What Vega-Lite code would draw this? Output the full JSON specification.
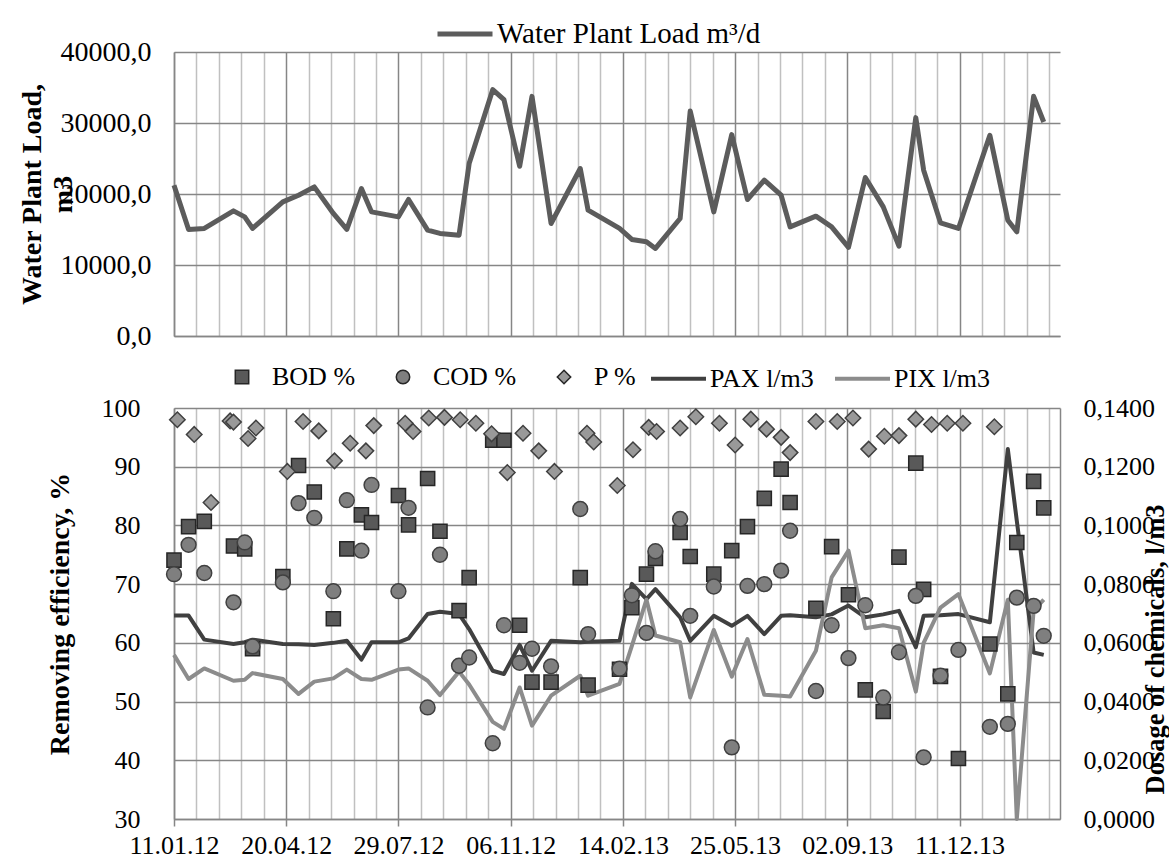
{
  "$schema": "https://vega.github.io/schema/vega-lite/v6.json",
  "background": "white",
  "padding": {"left": 18, "top": 4, "right": 0, "bottom": 0},
  "config": {
    "font": "Liberation Serif",
    "view": {"stroke": null},
    "axis": {
      "labelFont": "Liberation Serif", "labelFontSize": 26, "labelColor": "#000000",
      "titleFont": "Liberation Serif", "titleFontSize": 28, "titleFontWeight": "bold", "titleColor": "#000000",
      "domainColor": "#868686", "domainWidth": 1.5, "gridWidth": 1.5, "tickColor": "#868686", "tickWidth": 1.5
    },
    "legend": {"labelFont": "Liberation Serif", "labelFontSize": 26, "labelColor": "#000000", "padding": 0, "labelLimit": 0},
    "locale": {"number": {"decimal": ",", "thousands": " ", "grouping": [3], "currency": ["", ""]}}
  },
  "datasets": {
    "samples": [
      {"date": "2012-01-11", "load": 21238, "bod": 74.1, "cod": 71.7, "pax": 0.0693, "pix": 0.0559},
      {"date": "2012-01-24", "load": 15007, "bod": 79.8, "cod": 76.7, "pax": 0.0693, "pix": 0.0477},
      {"date": "2012-02-07", "load": 15148, "bod": 80.7, "cod": 71.9, "pax": 0.0611, "pix": 0.0513},
      {"date": "2012-03-04", "load": 17623, "bod": 76.5, "cod": 66.9, "pax": 0.0596, "pix": 0.0471},
      {"date": "2012-03-14", "load": 16780, "bod": 76.0, "cod": 77.1, "pax": 0.0602, "pix": 0.0474},
      {"date": "2012-03-21", "load": 15148, "bod": 59.0, "cod": 59.4, "pax": 0.0611, "pix": 0.0497},
      {"date": "2012-04-17", "load": 18890, "bod": 71.3, "cod": 70.3, "pax": 0.0596, "pix": 0.0477},
      {"date": "2012-05-01", "load": 19831, "bod": 90.2, "cod": 83.8, "pax": 0.0595, "pix": 0.0426},
      {"date": "2012-05-15", "load": 21000, "bod": 85.7, "cod": 81.3, "pax": 0.0593, "pix": 0.0468},
      {"date": "2012-06-01", "load": 17257, "bod": 64.1, "cod": 68.8, "pax": 0.0600, "pix": 0.0479},
      {"date": "2012-06-13", "load": 15007, "bod": 76.0, "cod": 84.3, "pax": 0.0607, "pix": 0.0509},
      {"date": "2012-06-26", "load": 20773, "bod": 81.8, "cod": 75.7, "pax": 0.0543, "pix": 0.0477},
      {"date": "2012-07-05", "load": 17482, "bod": 80.5, "cod": 86.9, "pax": 0.0602, "pix": 0.0474},
      {"date": "2012-07-29", "load": 16780, "bod": 85.1, "cod": 68.8, "pax": 0.0602, "pix": 0.0509},
      {"date": "2012-08-07", "load": 19226, "bod": 80.1, "cod": 83.0, "pax": 0.0615, "pix": 0.0513},
      {"date": "2012-08-24", "load": 14908, "bod": 88.0, "cod": 49.0, "pax": 0.0698, "pix": 0.0471},
      {"date": "2012-09-04", "load": 14444, "bod": 79.0, "cod": 75.0, "pax": 0.0706, "pix": 0.0422},
      {"date": "2012-09-21", "load": 14205, "bod": 65.5, "cod": 56.1, "pax": 0.0698, "pix": 0.0502},
      {"date": "2012-09-30", "load": 24290, "bod": 71.1, "cod": 57.5, "pax": 0.0647, "pix": 0.0458},
      {"date": "2012-10-21", "load": 34698, "bod": 94.5, "cod": 42.9, "pax": 0.0505, "pix": 0.0331},
      {"date": "2012-10-31", "load": 33291, "bod": 94.5, "cod": 63.0, "pax": 0.0494, "pix": 0.0307},
      {"date": "2012-11-14", "load": 23910, "bod": 63.0, "cod": 56.6, "pax": 0.0593, "pix": 0.0448},
      {"date": "2012-11-25", "load": 33755, "bod": 53.3, "cod": 59.0, "pax": 0.0505, "pix": 0.0318},
      {"date": "2012-12-12", "load": 15851, "bod": 53.3, "cod": 56.0, "pax": 0.0607, "pix": 0.0420},
      {"date": "2013-01-07", "load": 23587, "bod": 71.1, "cod": 82.8, "pax": 0.0602, "pix": 0.0488},
      {"date": "2013-01-14", "load": 17722, "bod": 52.8, "cod": 61.5, "pax": 0.0604, "pix": 0.0420},
      {"date": "2013-02-11", "load": 15148, "bod": 55.5, "cod": 55.6, "pax": 0.0607, "pix": 0.0460},
      {"date": "2013-02-22", "load": 13600, "bod": 66.0, "cod": 68.1, "pax": 0.0801, "pix": 0.0590},
      {"date": "2013-03-07", "load": 13263, "bod": 71.7, "cod": 61.7, "pax": 0.0749, "pix": 0.0747},
      {"date": "2013-03-15", "load": 12334, "bod": 74.4, "cod": 75.6, "pax": 0.0783, "pix": 0.0625},
      {"date": "2013-04-06", "load": 16554, "bod": 78.8, "cod": 81.1, "pax": 0.0687, "pix": 0.0602},
      {"date": "2013-04-15", "load": 31688, "bod": 74.7, "cod": 64.6, "pax": 0.0607, "pix": 0.0414},
      {"date": "2013-05-06", "load": 17482, "bod": 71.7, "cod": 69.6, "pax": 0.0692, "pix": 0.0644},
      {"date": "2013-05-22", "load": 28368, "bod": 75.7, "cod": 42.2, "pax": 0.0658, "pix": 0.0485},
      {"date": "2013-06-05", "load": 19226, "bod": 79.8, "cod": 69.7, "pax": 0.0692, "pix": 0.0613},
      {"date": "2013-06-20", "load": 21941, "bod": 84.6, "cod": 70.0, "pax": 0.0630, "pix": 0.0423},
      {"date": "2013-07-05", "load": 19831, "bod": 89.6, "cod": 72.3, "pax": 0.0692, "pix": 0.0420},
      {"date": "2013-07-13", "load": 15373, "bod": 83.9, "cod": 79.1, "pax": 0.0694, "pix": 0.0417},
      {"date": "2013-08-05", "load": 16878, "bod": 65.9, "cod": 51.8, "pax": 0.0687, "pix": 0.0573},
      {"date": "2013-08-19", "load": 15373, "bod": 76.4, "cod": 63.0, "pax": 0.0697, "pix": 0.0823},
      {"date": "2013-09-03", "load": 12475, "bod": 68.2, "cod": 57.4, "pax": 0.0727, "pix": 0.0914},
      {"date": "2013-09-18", "load": 22321, "bod": 52.0, "cod": 66.4, "pax": 0.0687, "pix": 0.0650},
      {"date": "2013-10-04", "load": 18186, "bod": 48.3, "cod": 50.7, "pax": 0.0697, "pix": 0.0660},
      {"date": "2013-10-18", "load": 12658, "bod": 74.6, "cod": 58.4, "pax": 0.0709, "pix": 0.0650},
      {"date": "2013-11-02", "load": 30759, "bod": 90.6, "cod": 68.0, "pax": 0.0585, "pix": 0.0434},
      {"date": "2013-11-09", "load": 23347, "bod": 69.1, "cod": 40.5, "pax": 0.0692, "pix": 0.0600},
      {"date": "2013-11-24", "load": 15935, "bod": 54.3, "cod": 54.4, "pax": 0.0694, "pix": 0.0720},
      {"date": "2013-12-10", "load": 15148, "bod": 40.3, "cod": 58.8, "pax": 0.0698, "pix": 0.0766},
      {"date": "2014-01-07", "load": 28270, "bod": 59.8, "cod": 45.7, "pax": 0.0670, "pix": 0.0496},
      {"date": "2014-01-23", "load": 16315, "bod": 51.3, "cod": 46.2, "pax": 0.1260, "pix": 0.0747},
      {"date": "2014-01-31", "load": 14670, "bod": 77.1, "cod": 67.7, "pax": 0.1016, "pix": 0.0},
      {"date": "2014-02-15", "load": 33755, "bod": 87.5, "cod": 66.3, "pax": 0.0567, "pix": 0.0710},
      {"date": "2014-02-24", "load": 30140, "bod": 83.0, "cod": 61.2, "pax": 0.0559, "pix": 0.0747}
    ],
    "phosphorus": [
      {"date": "2012-01-14", "p": 98.0}, {"date": "2012-01-29", "p": 95.5}, {"date": "2012-02-13", "p": 83.9},
      {"date": "2012-03-01", "p": 97.8}, {"date": "2012-03-04", "p": 97.6}, {"date": "2012-03-17", "p": 94.8},
      {"date": "2012-03-24", "p": 96.6}, {"date": "2012-04-21", "p": 89.2}, {"date": "2012-05-05", "p": 97.7},
      {"date": "2012-05-19", "p": 96.1}, {"date": "2012-06-02", "p": 91.0}, {"date": "2012-06-16", "p": 94.0},
      {"date": "2012-06-30", "p": 92.7}, {"date": "2012-07-07", "p": 97.0}, {"date": "2012-08-04", "p": 97.4},
      {"date": "2012-08-11", "p": 96.0}, {"date": "2012-08-25", "p": 98.3}, {"date": "2012-09-08", "p": 98.4},
      {"date": "2012-09-22", "p": 98.0}, {"date": "2012-10-06", "p": 97.4}, {"date": "2012-10-20", "p": 95.6},
      {"date": "2012-11-03", "p": 89.0}, {"date": "2012-11-17", "p": 95.7}, {"date": "2012-12-01", "p": 92.7},
      {"date": "2012-12-15", "p": 89.2}, {"date": "2013-01-13", "p": 95.7}, {"date": "2013-01-19", "p": 94.2},
      {"date": "2013-02-09", "p": 86.8}, {"date": "2013-02-23", "p": 92.9}, {"date": "2013-03-09", "p": 96.7},
      {"date": "2013-03-16", "p": 96.0}, {"date": "2013-04-06", "p": 96.6}, {"date": "2013-04-20", "p": 98.5},
      {"date": "2013-05-11", "p": 97.4}, {"date": "2013-05-25", "p": 93.7}, {"date": "2013-06-08", "p": 98.1},
      {"date": "2013-06-22", "p": 96.4}, {"date": "2013-07-05", "p": 95.0}, {"date": "2013-07-13", "p": 92.4},
      {"date": "2013-08-05", "p": 97.7}, {"date": "2013-08-24", "p": 97.7}, {"date": "2013-09-07", "p": 98.3},
      {"date": "2013-09-21", "p": 93.0}, {"date": "2013-10-05", "p": 95.2}, {"date": "2013-10-18", "p": 95.3},
      {"date": "2013-11-02", "p": 98.1}, {"date": "2013-11-16", "p": 97.2}, {"date": "2013-11-30", "p": 97.4},
      {"date": "2013-12-14", "p": 97.4}, {"date": "2014-01-11", "p": 96.8}
    ]
  },
  "spacing": -1,
  "resolve": {
    "scale": {"stroke": "independent", "fill": "independent", "shape": "independent"},
    "legend": {"stroke": "independent", "fill": "independent", "shape": "independent"}
  },
  "vconcat": [
    {
      "width": 886,
      "height": 284,
      "data": {"name": "samples"},
      "mark": {"type": "line", "strokeWidth": 5, "strokeJoin": "round"},
      "encoding": {
        "x": {
          "field": "date", "type": "temporal",
          "scale": {"type": "utc", "nice": false, "domain": [{"year": 2012, "month": 1, "date": 11, "utc": true}, {"year": 2014, "month": 3, "date": 10, "hours": 12, "utc": true}]},
          "axis": {
            "title": null, "labels": false, "ticks": false, "domain": true, "grid": true,
            "gridColor": {"condition": {"test": "round((datum.value - utc(2012, 0, 11)) / 86400000) % 100 === 0", "value": "#868686"}, "value": "#c0c0c0"},
            "values": [
              {"year": 2012, "month": 1, "date": 11, "utc": true}, {"year": 2012, "month": 1, "date": 31, "utc": true},
              {"year": 2012, "month": 2, "date": 20, "utc": true}, {"year": 2012, "month": 3, "date": 11, "utc": true},
              {"year": 2012, "month": 3, "date": 31, "utc": true}, {"year": 2012, "month": 4, "date": 20, "utc": true},
              {"year": 2012, "month": 5, "date": 10, "utc": true}, {"year": 2012, "month": 5, "date": 30, "utc": true},
              {"year": 2012, "month": 6, "date": 19, "utc": true}, {"year": 2012, "month": 7, "date": 9, "utc": true},
              {"year": 2012, "month": 7, "date": 29, "utc": true}, {"year": 2012, "month": 8, "date": 18, "utc": true},
              {"year": 2012, "month": 9, "date": 7, "utc": true}, {"year": 2012, "month": 9, "date": 27, "utc": true},
              {"year": 2012, "month": 10, "date": 17, "utc": true}, {"year": 2012, "month": 11, "date": 6, "utc": true},
              {"year": 2012, "month": 11, "date": 26, "utc": true}, {"year": 2012, "month": 12, "date": 16, "utc": true},
              {"year": 2013, "month": 1, "date": 5, "utc": true}, {"year": 2013, "month": 1, "date": 25, "utc": true},
              {"year": 2013, "month": 2, "date": 14, "utc": true}, {"year": 2013, "month": 3, "date": 6, "utc": true},
              {"year": 2013, "month": 3, "date": 26, "utc": true}, {"year": 2013, "month": 4, "date": 15, "utc": true},
              {"year": 2013, "month": 5, "date": 5, "utc": true}, {"year": 2013, "month": 5, "date": 25, "utc": true},
              {"year": 2013, "month": 6, "date": 14, "utc": true}, {"year": 2013, "month": 7, "date": 4, "utc": true},
              {"year": 2013, "month": 7, "date": 24, "utc": true}, {"year": 2013, "month": 8, "date": 13, "utc": true},
              {"year": 2013, "month": 9, "date": 2, "utc": true}, {"year": 2013, "month": 9, "date": 22, "utc": true},
              {"year": 2013, "month": 10, "date": 12, "utc": true}, {"year": 2013, "month": 11, "date": 1, "utc": true},
              {"year": 2013, "month": 11, "date": 21, "utc": true}, {"year": 2013, "month": 12, "date": 11, "utc": true},
              {"year": 2013, "month": 12, "date": 31, "utc": true}, {"year": 2014, "month": 1, "date": 20, "utc": true},
              {"year": 2014, "month": 2, "date": 9, "utc": true}, {"year": 2014, "month": 3, "date": 1, "utc": true}
            ]
          }
        },
        "y": {
          "field": "load", "type": "quantitative",
          "scale": {"domain": [0, 40000], "nice": false},
          "axis": {
            "title": ["Water Plant Load,", "m3"], "titleAngle": 270, "titleBaseline": "alphabetic", "titleAlign": "center",
            "titleLineHeight": 31, "titleX": -134,
            "values": [0, 10000, 20000, 30000, 40000], "format": ".1f", "labelFontSize": 28,
            "grid": true, "gridColor": "#868686", "ticks": false, "domain": true, "labelPadding": 23
          }
        },
        "stroke": {
          "datum": "Water Plant Load m³/d", "type": "nominal",
          "scale": {"range": ["#5c5c5c"]},
          "legend": {"orient": "none", "legendX": 261, "legendY": -48, "title": null, "symbolType": "stroke", "symbolSize": 3025, "symbolStrokeWidth": 5, "labelOffset": 2, "labelFontSize": 29}
        }
      }
    },
    {
      "width": 886,
      "height": 411,
      "encoding": {
        "x": {
          "field": "date", "type": "temporal",
          "scale": {"type": "utc", "nice": false, "domain": [{"year": 2012, "month": 1, "date": 11, "utc": true}, {"year": 2014, "month": 3, "date": 10, "hours": 12, "utc": true}]},
          "axis": {
            "title": null, "domain": true, "grid": true,
            "gridColor": {"condition": {"test": "round((datum.value - utc(2012, 0, 11)) / 86400000) % 100 === 0", "value": "#868686"}, "value": "#c0c0c0"},
            "ticks": true, "tickSize": 7,
            "tickOpacity": {"condition": {"test": "round((datum.value - utc(2012, 0, 11)) / 86400000) % 100 === 0", "value": 1}, "value": 0},
            "labelExpr": "round((datum.value - utc(2012, 0, 11)) / 86400000) % 100 === 0 ? utcFormat(datum.value, '%d.%m.%y') : ''",
            "labelFlush": false, "labelOverlap": false, "labelPadding": 6,
            "values": [
              {"year": 2012, "month": 1, "date": 11, "utc": true}, {"year": 2012, "month": 1, "date": 31, "utc": true},
              {"year": 2012, "month": 2, "date": 20, "utc": true}, {"year": 2012, "month": 3, "date": 11, "utc": true},
              {"year": 2012, "month": 3, "date": 31, "utc": true}, {"year": 2012, "month": 4, "date": 20, "utc": true},
              {"year": 2012, "month": 5, "date": 10, "utc": true}, {"year": 2012, "month": 5, "date": 30, "utc": true},
              {"year": 2012, "month": 6, "date": 19, "utc": true}, {"year": 2012, "month": 7, "date": 9, "utc": true},
              {"year": 2012, "month": 7, "date": 29, "utc": true}, {"year": 2012, "month": 8, "date": 18, "utc": true},
              {"year": 2012, "month": 9, "date": 7, "utc": true}, {"year": 2012, "month": 9, "date": 27, "utc": true},
              {"year": 2012, "month": 10, "date": 17, "utc": true}, {"year": 2012, "month": 11, "date": 6, "utc": true},
              {"year": 2012, "month": 11, "date": 26, "utc": true}, {"year": 2012, "month": 12, "date": 16, "utc": true},
              {"year": 2013, "month": 1, "date": 5, "utc": true}, {"year": 2013, "month": 1, "date": 25, "utc": true},
              {"year": 2013, "month": 2, "date": 14, "utc": true}, {"year": 2013, "month": 3, "date": 6, "utc": true},
              {"year": 2013, "month": 3, "date": 26, "utc": true}, {"year": 2013, "month": 4, "date": 15, "utc": true},
              {"year": 2013, "month": 5, "date": 5, "utc": true}, {"year": 2013, "month": 5, "date": 25, "utc": true},
              {"year": 2013, "month": 6, "date": 14, "utc": true}, {"year": 2013, "month": 7, "date": 4, "utc": true},
              {"year": 2013, "month": 7, "date": 24, "utc": true}, {"year": 2013, "month": 8, "date": 13, "utc": true},
              {"year": 2013, "month": 9, "date": 2, "utc": true}, {"year": 2013, "month": 9, "date": 22, "utc": true},
              {"year": 2013, "month": 10, "date": 12, "utc": true}, {"year": 2013, "month": 11, "date": 1, "utc": true},
              {"year": 2013, "month": 11, "date": 21, "utc": true}, {"year": 2013, "month": 12, "date": 11, "utc": true},
              {"year": 2013, "month": 12, "date": 31, "utc": true}, {"year": 2014, "month": 1, "date": 20, "utc": true},
              {"year": 2014, "month": 2, "date": 9, "utc": true}, {"year": 2014, "month": 3, "date": 1, "utc": true}
            ]
          }
        }
      },
      "layer": [
        {
          "data": {"name": "samples"},
          "layer": [
            {
              "mark": {"type": "line", "strokeWidth": 4, "strokeJoin": "round"},
              "encoding": {
                "y": {
                  "field": "pax", "type": "quantitative",
                  "scale": {"domain": [0, 0.14], "nice": false},
                  "axis": {
                    "orient": "right", "title": "Dosage of chemicals, l/m3", "titleFontSize": 26.5,
                    "titleAngle": 270, "titleBaseline": "alphabetic", "titleAlign": "center", "titleX": 103, "titleY": 241,
                    "values": [0, 0.02, 0.04, 0.06, 0.08, 0.1, 0.12, 0.14], "format": ".4f",
                    "grid": false, "ticks": false, "domain": true, "labelPadding": 23
                  }
                },
                "stroke": {
                  "datum": "PAX l/m3", "type": "nominal",
                  "scale": {"domain": ["PAX l/m3", "PIX l/m3"], "range": ["#404040", "#8c8c8c"]},
                  "legend": {"orient": "none", "legendX": 475, "legendY": -59, "direction": "horizontal", "title": null, "symbolType": "stroke", "symbolSize": 3025, "symbolStrokeWidth": 4, "labelOffset": 2, "columnPadding": 13}
                }
              }
            },
            {
              "mark": {"type": "line", "strokeWidth": 4, "strokeJoin": "round"},
              "encoding": {
                "y": {"field": "pix", "type": "quantitative"},
                "stroke": {"datum": "PIX l/m3", "type": "nominal"}
              }
            }
          ]
        },
        {
          "layer": [
            {
              "data": {"name": "samples"},
              "mark": {"type": "point", "filled": true, "opacity": 1, "size": 200, "stroke": "#262626", "strokeWidth": 1.5},
              "encoding": {
                "y": {
                  "field": "bod", "type": "quantitative",
                  "scale": {"domain": [30, 100], "nice": false},
                  "axis": {
                    "orient": "left", "title": "Removing efficiency, %", "titleAngle": 270, "titleBaseline": "alphabetic",
                    "titleAlign": "center", "titleX": -106,
                    "values": [30, 40, 50, 60, 70, 80, 90, 100], "format": "d",
                    "grid": true, "gridColor": "#868686", "ticks": false, "domain": true, "labelPadding": 34
                  }
                },
                "fill": {
                  "datum": "BOD %", "type": "nominal",
                  "scale": {"domain": ["BOD %", "COD %", "P %"], "range": ["#595959", "#7f7f7f", "#999999"]},
                  "legend": {"orient": "none", "legendX": 55, "legendY": -44, "direction": "horizontal", "title": null, "symbolSize": 180, "symbolStrokeWidth": 1.5, "symbolStrokeColor": "#333333", "labelOffset": 17, "columnPadding": 34}
                },
                "shape": {
                  "datum": "BOD %", "type": "nominal",
                  "scale": {"domain": ["BOD %", "COD %", "P %"], "range": ["square", "circle", "diamond"]}
                }
              }
            },
            {
              "data": {"name": "samples"},
              "mark": {"type": "point", "filled": true, "opacity": 1, "size": 220, "stroke": "#404040", "strokeWidth": 1.5},
              "encoding": {
                "y": {"field": "cod", "type": "quantitative"},
                "fill": {"datum": "COD %", "type": "nominal"},
                "shape": {"datum": "COD %", "type": "nominal"}
              }
            },
            {
              "data": {"name": "phosphorus"},
              "mark": {"type": "point", "filled": true, "opacity": 1, "size": 240, "stroke": "#404040", "strokeWidth": 1.5},
              "encoding": {
                "y": {"field": "p", "type": "quantitative"},
                "fill": {"datum": "P %", "type": "nominal"},
                "shape": {"datum": "P %", "type": "nominal"}
              }
            }
          ]
        }
      ],
      "resolve": {"scale": {"y": "independent"}}
    }
  ]
}
